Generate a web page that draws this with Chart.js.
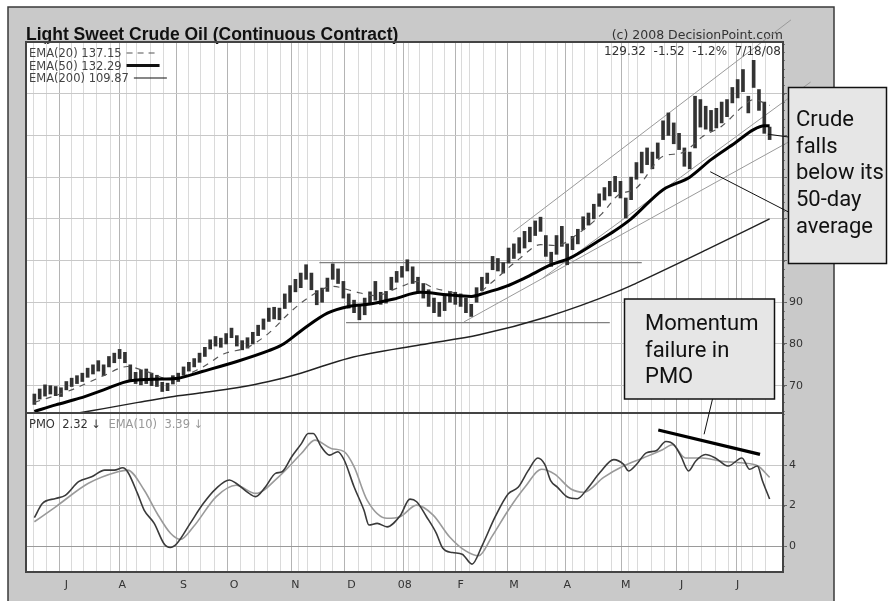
<!DOCTYPE html>
<html>
<head>
<meta charset="utf-8">
<title>Light Sweet Crude Oil</title>
<script src="https://cdn.jsdelivr.net/npm/chart.js@4.4.1/dist/chart.umd.min.js"></script>
<style>
  html, body { margin: 0; padding: 0; background: #fff; }
</style>
</head>
<body>
<canvas id="oilChart" width="888" height="601"></canvas>
<script>
// trading-session index: 0 = 6/14/07 ... 276 = 7/18/08
const monthDays = [12, 33, 56, 75, 98, 119, 139, 160, 180, 200, 222, 243, 264];
const monthLabels = ["J", "A", "S", "O", "N", "D", "08", "F", "M", "A", "M", "J", "J"];
const weekDays = [2, 7, 12, 16, 21, 26, 31, 36, 41, 46, 51, 56, 60, 65, 70, 75, 80, 85, 90, 95,
  100, 105, 110, 114, 119, 124, 129, 134, 138, 142, 147, 152, 156, 161, 166, 171, 175, 180, 185,
  190, 194, 199, 204, 209, 214, 219, 224, 229, 234, 239, 243, 248, 253, 258, 263, 267, 272];
const priceTicks = [70, 80, 90, 100, 110, 120, 130, 140];
const pmoTicks = [0, 2, 4];

// price bars, one every second session
const barLows = [65.5, 66.8, 67.5, 68.0, 67.6, 67.4, 69.0, 69.8, 70.5, 71.0, 72.0, 72.8, 73.5, 72.4,
  74.5, 75.5, 76.5, 75.5, 71.4, 70.5, 70.2, 70.5, 70.0, 69.8, 68.6, 68.8, 70.4, 71.0, 72.5, 73.5,
  74.5, 75.6, 77.0, 78.8, 79.5, 79.2, 80.0, 81.5, 79.5, 78.6, 79.0, 80.0, 82.0, 83.5, 85.4, 86.0,
  85.8, 88.5, 90.0, 92.5, 93.5, 95.5, 93.0, 89.4, 90.0, 92.6, 95.5, 94.5, 91.0, 88.6, 87.5, 85.8,
  87.0, 89.5, 90.5, 89.5, 89.8, 93.0, 94.8, 96.0, 97.5, 94.5, 92.5, 91.0, 89.0, 87.5, 86.6, 88.0,
  90.0, 89.5, 89.0, 87.5, 86.6, 90.0, 92.8, 94.5, 97.8, 97.5, 97.0, 99.4, 100.5, 101.8, 103.0,
  104.5, 106.0, 107.0, 101.0, 98.6, 101.5, 103.4, 99.0, 102.6, 104.0, 107.4, 108.5, 110.0, 113.0,
  114.5, 115.5, 116.5, 115.0, 110.2, 114.6, 119.5, 121.0, 123.0, 122.0, 124.5, 129.0, 130.0, 128.0,
  126.6, 122.6, 122.0, 127.0, 132.0, 131.5, 131.0, 131.8, 133.0, 134.5, 137.8, 139.0, 140.5, 135.4,
  141.5, 136.0, 130.5, 129.0];
const barHighs = [68.0, 69.2, 70.2, 70.0, 69.8, 69.5, 71.0, 71.8, 72.4, 73.0, 74.2, 75.0, 76.0, 75.0,
  77.0, 77.8, 78.7, 78.0, 75.0, 73.2, 73.8, 74.0, 73.0, 72.5, 70.8, 70.6, 72.4, 73.0, 74.5, 75.6,
  76.5, 77.8, 79.2, 81.0, 81.8, 81.4, 82.5, 83.8, 82.0, 80.8, 81.5, 82.8, 84.5, 86.0, 88.6, 88.8,
  88.6, 92.0, 94.0, 95.5, 97.0, 99.0, 97.0, 92.8, 93.4, 95.8, 99.2, 98.0, 95.0, 92.0, 90.5, 89.5,
  91.0, 92.5, 95.0, 92.4, 92.6, 96.0, 97.4, 98.6, 100.2, 98.5, 96.0, 94.5, 93.0, 91.0, 90.0, 91.5,
  92.6, 92.4, 92.0, 91.0, 89.5, 93.5, 96.0, 97.0, 101.0, 100.5, 99.5, 103.0, 104.0, 105.5, 107.0,
  108.0, 109.5, 110.4, 106.0, 102.0, 106.0, 108.2, 104.0, 105.8, 107.5, 110.5, 111.4, 113.5, 116.0,
  117.5, 119.0, 120.2, 119.0, 115.0, 120.0, 123.5, 126.0, 127.0, 126.0, 128.2, 133.5, 135.4, 133.0,
  130.5, 127.0, 126.0, 139.4, 138.6, 137.0, 136.0, 136.5, 138.0, 138.6, 141.5, 143.4, 145.8, 139.4,
  148.0, 141.0, 138.0, 132.0];
const barDays = barLows.map((_, k) => k * 2);

// moving averages (session, value)
const ema20Days = [0, 14, 26, 35, 42, 51, 63, 71, 80, 88, 96, 104, 112, 120, 128, 137, 144, 150, 157,
  164, 171, 182, 190, 196, 204, 213, 219, 226, 236, 243, 251, 258, 266, 270, 276];
const ema20Vals = [66.0, 69.0, 72.4, 74.6, 73.4, 71.6, 74.4, 77.6, 79.2, 82.6, 87.6, 91.6, 93.8, 92.6,
  91.6, 93.6, 95.0, 93.4, 92.4, 91.2, 94.4, 100.4, 103.8, 103.6, 106.4, 111.2, 115.6, 117.4, 125.0,
  125.8, 129.8, 132.2, 137.0, 138.6, 137.2];

const ema50Days = [0, 8, 17, 26, 36, 48, 54, 63, 76, 88, 93, 101, 110, 118, 126, 135, 145, 155, 164,
  169, 177, 184, 194, 201, 211, 218, 224, 236, 246, 254, 263, 270, 274, 276];
const ema50Vals = [63.8, 65.4, 67.0, 69.0, 71.2, 71.6, 71.8, 73.4, 75.8, 78.4, 79.8, 83.6, 87.4, 89.0,
  89.6, 90.8, 92.4, 91.8, 91.4, 92.2, 93.8, 95.8, 99.0, 100.6, 104.4, 107.2, 110.0, 117.0, 120.0,
  124.2, 128.2, 131.4, 132.3, 132.3];

const ema200Days = [0, 16, 26, 39, 51, 63, 76, 88, 100, 118, 145, 167, 192, 219, 226, 252, 276];
const ema200Vals = [61.5, 63.4, 64.5, 66.0, 67.3, 68.3, 69.5, 71.0, 73.0, 76.6, 79.8, 82.2, 86.4,
  92.6, 94.6, 102.5, 110.0];

// price momentum oscillator and its 10-day EMA
const pmoDays = [0, 3, 8, 11.6, 16.6, 21.5, 26.4, 30, 33.2, 35, 38.7, 41.2, 45, 48.6, 51, 53.5, 58.5,
  63.4, 68.3, 73.2, 75.7, 80.6, 83, 86.8, 90.5, 93, 96.6, 100.3, 102.8, 104.7, 107.7, 110.8, 113.9,
  116.3, 120, 123.7, 125.6, 128.7, 132.4, 137.3, 141, 143.5, 147.2, 150.9, 153.2, 156.9, 160.6, 164.3,
  168, 173, 177.9, 181.6, 185.3, 189, 191.6, 193.8, 196.4, 200.1, 203.8, 207.5, 212.3, 217.5, 221.2,
  223, 226, 229.7, 233.4, 237.1, 240.1, 242.7, 245.6, 248.2, 251.9, 255.6, 260.4, 265.6, 268.5,
  271.4, 273.3, 276];
const pmoVals = [1.4, 2.1, 2.35, 2.5, 3.18, 3.42, 3.75, 3.75, 3.87, 3.67, 2.6, 1.78, 1.12, 0.13, -0.07,
  0.13, 1.12, 2.1, 2.85, 3.26, 3.1, 2.6, 2.44, 2.93, 3.59, 3.67, 4.41, 5.07, 5.56, 5.56, 4.9, 4.49,
  4.66, 4.25, 2.93, 1.78, 1.04, 1.12, 0.95, 1.5, 2.32, 2.19, 1.45, 0.63, -0.08, -0.32, -0.4, -0.89,
  0, 1.45, 2.58, 2.9, 3.71, 4.35, 4.03, 3.23, 2.9, 2.42, 2.34, 2.82, 3.63, 4.27, 4.03, 3.71, 4.03,
  4.6, 4.71, 5.16, 5.0, 4.44, 3.71, 4.19, 4.52, 4.35, 3.95, 4.35, 3.79, 3.95, 3.23, 2.32];
const signalDays = [0, 8, 20.3, 31.4, 35, 41.2, 46.1, 51.1, 54.8, 59.7, 68.3, 75.7, 83.1, 91.7, 100.3,
  105.3, 111.4, 116.3, 120, 124.9, 132.4, 137.3, 143.5, 149.7, 155.9, 161.9, 166.8, 171.8, 177.9,
  184.1, 190.4, 195.3, 201.4, 206.3, 213.7, 221.1, 228.5, 235.8, 239.5, 244.4, 250.6, 258, 265.4,
  271.6, 276];
const signalVals = [1.2, 1.94, 3.1, 3.67, 3.75, 2.77, 1.61, 0.63, 0.33, 0.95, 2.44, 3.0, 2.6, 3.42,
  4.58, 5.23, 4.82, 4.66, 3.92, 2.27, 1.37, 1.45, 2.02, 1.53, 0.45, -0.24, -0.48, 0.48, 1.77, 2.9,
  3.79, 3.55, 2.82, 2.66, 3.39, 3.95, 4.35, 4.76, 5.0, 4.35, 4.35, 4.19, 4.11, 3.95, 3.39];

// hand-drawn annotation lines (session, value)
const channelTop = [[179.8, 106.9], [284, 157.7]];
const channelLow = [[190.9, 95.8], [291.4, 142.8]];
const febTrend = [[161.3, 85.3], [285, 129.1]];
const resistance = [[107, 99.5], [228, 99.5]];
const support = [[117, 85.1], [216, 85.1]];
const pmoFailure = [[234.2, 5.73], [272.4, 4.53]];

const FONT = "'DejaVu Sans', Verdana, sans-serif";
Chart.defaults.font.family = FONT;

function series(days, vals, axis, style) {
  return Object.assign({
    type: "line",
    data: days.map((d, k) => ({ x: d, y: vals[k] })),
    yAxisID: axis,
    pointRadius: 0,
    cubicInterpolationMode: "monotone",
    fill: false,
  }, style);
}

function segment(pts, axis, style) {
  return series(pts.map((p) => p[0]), pts.map((p) => p[1]), axis, Object.assign({ clip: false }, style));
}

function drawCallout(ctx, box, lines, textX, firstBase) {
  ctx.fillStyle = "#e6e6e6";
  ctx.fillRect(box[0], box[1], box[2], box[3]);
  ctx.strokeStyle = "#111";
  ctx.lineWidth = 1.5;
  ctx.strokeRect(box[0], box[1], box[2], box[3]);
  ctx.fillStyle = "#111";
  ctx.font = "22px Roboto, 'Liberation Sans', sans-serif";
  ctx.textAlign = "left";
  ctx.textBaseline = "alphabetic";
  lines.forEach((t, k) => ctx.fillText(t, textX, firstBase + k * 26.7));
}

const framePlugin = {
  id: "frame",
  beforeDraw(chart) {
    const { ctx, chartArea: a } = chart;
    ctx.save();
    ctx.fillStyle = "#fff";
    ctx.fillRect(0, 0, chart.width, chart.height);
    ctx.fillStyle = "#c9c9c9";
    ctx.fillRect(8, 7, 826, 600);
    ctx.strokeStyle = "#3a3a3a";
    ctx.lineWidth = 1.5;
    ctx.strokeRect(8, 7, 826, 600);
    ctx.fillStyle = "#fff";
    ctx.fillRect(a.left, a.top, a.right - a.left, a.bottom - a.top);

    ctx.fillStyle = "#111";
    ctx.font = "bold 17.5px 'Liberation Sans', Arial, sans-serif";
    ctx.textAlign = "left";
    ctx.fillText("Light Sweet Crude Oil (Continuous Contract)", 26, 40);
    ctx.fillStyle = "#333";
    ctx.font = "12.5px " + FONT;
    ctx.textAlign = "right";
    ctx.fillText("(c) 2008 DecisionPoint.com", 783, 39);
    ctx.restore();
  },
  afterDraw(chart) {
    const { ctx, chartArea: a, scales } = chart;
    const y = scales.y, y2 = scales.y2, x = scales.x;
    ctx.save();

    // minor ticks on the right axis
    ctx.strokeStyle = "#777";
    ctx.lineWidth = 1;
    ctx.beginPath();
    for (let v = 64; v <= 152; v += 2) {
      const py = Math.round(y.getPixelForValue(v)) + 0.5;
      ctx.moveTo(a.right, py);
      ctx.lineTo(a.right + 2, py);
    }
    for (let v = -1; v <= 6.5; v += 0.5) {
      const py = Math.round(y2.getPixelForValue(v)) + 0.5;
      ctx.moveTo(a.right, py);
      ctx.lineTo(a.right + 2, py);
    }
    ctx.stroke();

    // panel frames
    ctx.strokeStyle = "#444";
    ctx.lineWidth = 2;
    ctx.strokeRect(a.left, a.top, a.right - a.left, a.bottom - a.top);
    ctx.beginPath();
    ctx.moveTo(a.left, y2.top);
    ctx.lineTo(a.right, y2.top);
    ctx.stroke();

    // price legend
    ctx.font = "11.5px " + FONT;
    ctx.textAlign = "left";
    ctx.fillStyle = "#444";
    const rows = [["EMA(20) 137.15", 57], ["EMA(50) 132.29", 69.5], ["EMA(200) 109.87", 82]];
    rows.forEach(([t, base], k) => {
      ctx.fillText(t, 29, base);
      const x0 = 29 + ctx.measureText(t).width + 5;
      const ly = base - 4;
      ctx.strokeStyle = k === 0 ? "#555" : "#111";
      ctx.lineWidth = k === 1 ? 3 : 1.2;
      ctx.setLineDash(k === 0 ? [6, 5] : []);
      ctx.beginPath();
      ctx.moveTo(x0, ly);
      ctx.lineTo(x0 + (k === 0 ? 28 : 33), ly);
      ctx.stroke();
      ctx.setLineDash([]);
    });

    ctx.fillStyle = "#333";
    ctx.textAlign = "right";
    ctx.font = "12px " + FONT;
    ctx.fillText("129.32  -1.52  -1.2%  7/18/08", 781, 55);

    // PMO legend
    ctx.textAlign = "left";
    ctx.font = "11.5px " + FONT;
    let lx = 29;
    [["PMO  2.32 \u2193", "#333"], ["  EMA(10)  3.39 \u2193", "#999"]].forEach(([t, c]) => {
      ctx.fillStyle = c;
      ctx.fillText(t, lx, 428);
      lx += ctx.measureText(t).width;
    });

    // callouts
    drawCallout(ctx, [788.5, 87.5, 98, 176], ["Crude", "falls", "below its", "50-day", "average"], 796, 126);
    drawCallout(ctx, [624.5, 299, 150, 100], ["Momentum", "failure in", "PMO"], 645, 330);

    ctx.strokeStyle = "#111";
    ctx.lineWidth = 1;
    ctx.beginPath();
    ctx.moveTo(788.5, 137);
    ctx.lineTo(x.getPixelForValue(275.3), y.getPixelForValue(130.3));
    ctx.moveTo(788.5, 212);
    ctx.lineTo(x.getPixelForValue(253.7), y.getPixelForValue(121.3));
    ctx.moveTo(712.5, 399);
    ctx.lineTo(x.getPixelForValue(251.4), y2.getPixelForValue(5.52));
    ctx.stroke();
    ctx.restore();
  },
};

const datasets = [
  segment(pmoFailure, "y2", { borderColor: "#000", borderWidth: 3.2 }),
  series(pmoDays, pmoVals, "y2", { borderColor: "#3a3a3a", borderWidth: 1.6 }),
  series(signalDays, signalVals, "y2", { borderColor: "#9a9a9a", borderWidth: 1.6 }),
  series(ema50Days, ema50Vals, "y", { borderColor: "#000", borderWidth: 3 }),
  series(ema20Days, ema20Vals, "y", { borderColor: "#555", borderWidth: 1.2, borderDash: [6, 6] }),
  {
    type: "bar",
    data: barDays.map((d, k) => ({ x: d, y: [barLows[k], barHighs[k]] })),
    yAxisID: "y",
    backgroundColor: "#333",
    barThickness: 3,
    grouped: false,
  },
  series(ema200Days, ema200Vals, "y", { borderColor: "#222", borderWidth: 1.5 }),
  segment(channelTop, "y", { borderColor: "#9a9a9a", borderWidth: 1 }),
  segment(channelLow, "y", { borderColor: "#9a9a9a", borderWidth: 1 }),
  segment(febTrend, "y", { borderColor: "#9a9a9a", borderWidth: 1 }),
  segment(resistance, "y", { borderColor: "#808080", borderWidth: 1.2 }),
  segment(support, "y", { borderColor: "#808080", borderWidth: 1.2 }),
];

new Chart(document.getElementById("oilChart").getContext("2d"), {
  type: "line",
  data: { datasets },
  plugins: [framePlugin],
  options: {
    responsive: false,
    animation: false,
    events: [],
    layout: { padding: { left: 26, top: 42, right: 55, bottom: 0 } },
    plugins: { legend: { display: false }, tooltip: { enabled: false } },
    scales: {
      x: {
        type: "linear",
        min: -0.92,
        max: 278.8,
        afterBuildTicks: (s) => {
          s.ticks = [...new Set([...weekDays, ...monthDays])].sort((p, q) => p - q).map((v) => ({ value: v }));
        },
        afterFit: (s) => { s.height = 29; },
        grid: {
          drawTicks: false,
          color: (c) => (c.tick && monthDays.includes(c.tick.value) ? "#b4b4b4" : "#dadada"),
        },
        border: { display: false },
        ticks: {
          autoSkip: false,
          maxRotation: 0,
          padding: 7,
          color: "#333",
          font: { size: 11 },
          callback: (v) => {
            const k = monthDays.indexOf(v);
            return k >= 0 ? monthLabels[k] : "";
          },
        },
      },
      y: {
        type: "linear",
        position: "right",
        stack: "panes",
        stackWeight: 371,
        min: 63.45,
        max: 152.4,
        afterBuildTicks: (s) => { s.ticks = priceTicks.map((v) => ({ value: v })); },
        afterFit: (s) => { s.width = 50; },
        grid: { color: "#c8c8c8", tickLength: 4, tickColor: "#666" },
        border: { display: false },
        ticks: { padding: 2, color: "#333", font: { size: 11 } },
      },
      y2: {
        type: "linear",
        position: "right",
        stack: "panes",
        stackWeight: 159,
        min: -1.28,
        max: 6.57,
        afterBuildTicks: (s) => { s.ticks = pmoTicks.map((v) => ({ value: v })); },
        afterFit: (s) => { s.width = 50; },
        grid: {
          color: (c) => (c.tick && c.tick.value === 0 ? "#9a9a9a" : "#c8c8c8"),
          tickLength: 4,
          tickColor: "#666",
        },
        border: { display: false },
        ticks: { padding: 2, color: "#333", font: { size: 11 } },
      },
    },
  },
});
</script>
</body>
</html>
